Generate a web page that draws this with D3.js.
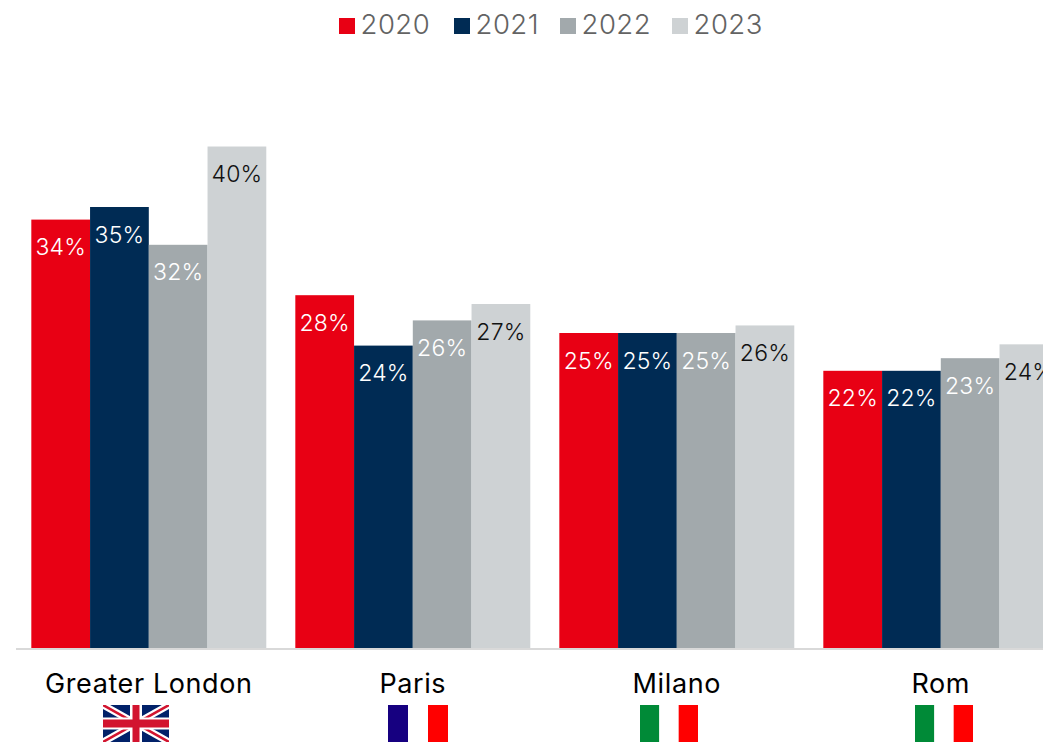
<!DOCTYPE html>
<html><head><meta charset="utf-8">
<script src="https://cdn.jsdelivr.net/npm/d3@7"></script>
<style>
html,body{margin:0;padding:0;background:#fff;overflow:hidden}
svg{display:block}
text{font-family:Inter,"Open Sans",sans-serif}
</style></head><body>
<svg id="c" width="1043" height="742"></svg>
<script>
const cities = ["Greater London","Paris","Milano","Rom"];
const years = ["2020","2021","2022","2023"];
const colors = ["#e80014","#002b54","#a2a9ac","#ced2d4"];
const labelColors = ["#ffffff","#ffffff","#ffffff","#111111"];
const v2020 = [34,28,25,22];
const v2021 = [35,24,25,22];
const v2022 = [32,26,25,23];
const v2023 = [39.8,27.3,25.6,24.1];
const series = [v2020,v2021,v2022,v2023];
const flagKinds = ["uk","fr","it","it"];

const svg = d3.select("#c");
const x0 = d3.scaleBand().domain(cities).range([16.8,1072.8]).paddingInner(0.11).paddingOuter(0.055);
const x1 = d3.scaleBand().domain(years).range([0,x0.bandwidth()]);
const y = d3.scaleLinear().domain([0,40]).range([648,144]);

// bars
cities.forEach((c,i)=>{
  const g = svg.append("g").attr("transform",`translate(${x0(c)},0)`);
  years.forEach((yr,j)=>{
    const v = series[j][i];
    g.append("rect").attr("x",x1(yr)).attr("y",y(v)).attr("width",x1.bandwidth()).attr("height",y(0)-y(v)).attr("fill",colors[j]);
    g.append("text").attr("x",x1(yr)+x1.bandwidth()/2).attr("y",y(v)+35.5)
      .attr("text-anchor","middle").attr("font-size",23).attr("font-weight",300).attr("letter-spacing",0.2)
      .attr("fill",labelColors[j]).text(Math.round(v)+"%");
  });
});

// axis
const axis = d3.axisBottom(x0).tickSize(0).tickPadding(0);
const ag = svg.append("g").attr("transform","translate(0,648)").call(axis);
ag.select(".domain").attr("stroke","#d9d9d9").attr("stroke-width",2).attr("d","M16,1H1043");
ag.selectAll("text").attr("y",45).attr("dy",0).attr("fill","#000").attr("font-size",27).attr("font-weight",400).attr("letter-spacing",0.6).attr("font-family",'Inter,sans-serif');

// legend
const legendX = d3.scaleOrdinal().domain(years).range([339,454,560,672]);
const lg = svg.append("g");
years.forEach((yr,j)=>{
  lg.append("rect").attr("x",legendX(yr)).attr("y",18).attr("width",16).attr("height",16).attr("fill",colors[j]);
  lg.append("text").attr("x",legendX(yr)+21.5).attr("y",34).attr("font-size",27.5).attr("font-weight",300).attr("letter-spacing",0.5).attr("fill","#636363").text(yr);
});

// flags
const flagX = d3.scaleOrdinal().domain(cities).range([103,388,640,915]);
const flagW = d3.scaleOrdinal().domain(["uk","fr","it"]).range([66,60,58]);
const stripes = {fr:["#160080","#ffffff","#ff0000"],it:["#008a37","#ffffff","#ff0000"]};
cities.forEach((c,i)=>{
  const k = flagKinds[i], w = flagW(k), X = flagX(c), top = 705, h = 37;
  const g = svg.append("g").attr("transform",`translate(${X},${top})`);
  if(k==="uk"){
    const cid = "ukclip";
    g.append("clipPath").attr("id",cid).append("rect").attr("width",w).attr("height",h);
    const f = g.append("g").attr("clip-path",`url(#${cid})`);
    f.append("rect").attr("width",w).attr("height",h).attr("fill","#012169");
    const diag = `M0,0L${w},${h}M${w},0L0,${h}`;
    f.append("path").attr("d",diag).attr("stroke","#fff").attr("stroke-width",7);
    f.append("path").attr("d",diag).attr("stroke","#d2142f").attr("stroke-width",2.5);
    f.append("rect").attr("x",w/2-6).attr("width",12).attr("height",h).attr("fill","#fff");
    f.append("rect").attr("y",h/2-6).attr("width",w).attr("height",12).attr("fill","#fff");
    f.append("rect").attr("x",w/2-3.5).attr("width",7).attr("height",h).attr("fill","#d2142f");
    f.append("rect").attr("y",h/2-4).attr("width",w).attr("height",8).attr("fill","#d2142f");
  } else {
    const s = d3.scaleBand().domain([0,1,2]).range([0,w]);
    stripes[k].forEach((col,n)=>g.append("rect").attr("x",s(n)).attr("width",s.bandwidth()).attr("height",h).attr("fill",col));
  }
});
</script></body></html>
